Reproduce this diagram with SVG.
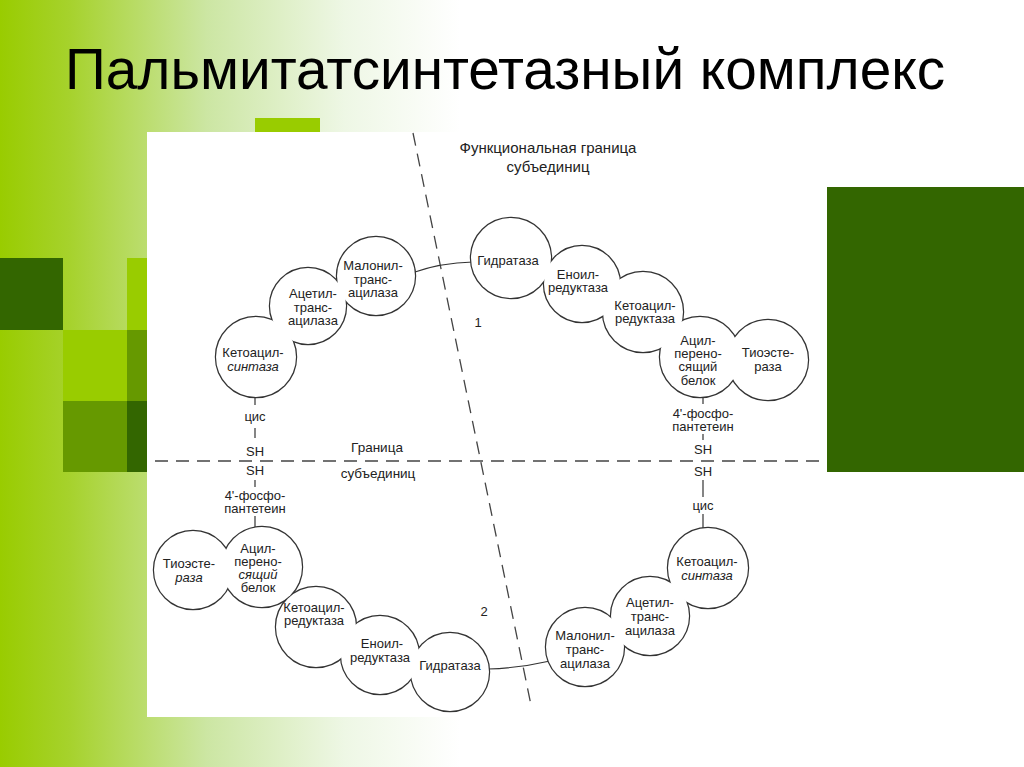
<svg xmlns="http://www.w3.org/2000/svg" width="1024" height="767" viewBox="0 0 1024 767">
<defs>
<linearGradient id="bgGrad" gradientUnits="userSpaceOnUse" x1="0" y1="0" x2="460" y2="0">
<stop offset="0" stop-color="#99cc00"/>
<stop offset="0.15" stop-color="#a6d22c"/>
<stop offset="0.45" stop-color="#cce6a3"/>
<stop offset="0.75" stop-color="#eef7e5"/>
<stop offset="1" stop-color="#ffffff"/>
</linearGradient>
<style>
.lime{fill:#99cc00}
.olive{fill:#669900}
.dark{fill:#336600}
.title{font-family:"Liberation Sans","Noto Sans",Arial,sans-serif;font-size:57px;fill:#000}
.t{font-family:"Liberation Sans","Noto Sans",Arial,sans-serif;font-size:13px;fill:#222;text-anchor:middle}
.it{font-style:italic}
.lbl{font-family:"Liberation Sans","Noto Sans",Arial,sans-serif;font-size:13.5px;fill:#222;text-anchor:middle}
.lbl2{font-family:"Liberation Sans","Noto Sans",Arial,sans-serif;font-size:15px;fill:#222;text-anchor:middle}
.ring{fill:none;stroke:#333;stroke-width:2.4}
.cover{fill:#fff;stroke:none}
.ln{fill:none;stroke:#333;stroke-width:1.2}
.dash{fill:none;stroke:#444;stroke-width:1.3;stroke-dasharray:13 8}
</style>
</defs>

<!-- background -->
<rect x="0" y="0" width="1024" height="767" fill="url(#bgGrad)"/>
<rect class="dark" x="0" y="258" width="63" height="72"/>
<rect class="lime" x="127" y="258" width="64" height="72"/>
<rect class="lime" x="63" y="330" width="64" height="71"/>
<rect class="olive" x="127" y="330" width="64" height="71"/>
<rect class="olive" x="63" y="401" width="64" height="71"/>
<rect class="dark" x="127" y="401" width="64" height="71"/>
<rect class="lime" x="255" y="118" width="65" height="66"/>
<rect x="147" y="132" width="680" height="585" fill="#fff"/>
<rect class="dark" x="827" y="187" width="197" height="285"/>

<text class="title" x="65" y="89" textLength="880" lengthAdjust="spacingAndGlyphs">Пальмитатсинтетазный комплекс</text>

<!-- connectors -->
<g id="connectors">
<line class="dash" x1="413" y1="133" x2="531" y2="705"/>
<line class="dash" x1="155" y1="461" x2="819" y2="461"/>
<path class="ln" d="M415,272 Q440,263 473,262"/>
<path class="ln" d="M488,669 Q520,668 550,661"/>
<line class="ln" x1="255" y1="397" x2="255" y2="405"/>
<line class="ln" x1="255" y1="428" x2="255" y2="438"/>
<line class="ln" x1="255" y1="480" x2="255" y2="487"/>
<line class="ln" x1="255" y1="516" x2="255" y2="528"/>
<line class="ln" x1="703" y1="396" x2="703" y2="404"/>
<line class="ln" x1="703" y1="434" x2="703" y2="440"/>
<line class="ln" x1="703" y1="480" x2="703" y2="497"/>
<line class="ln" x1="703" y1="514" x2="703" y2="529"/>
</g>

<!-- outline of the enzyme chains -->
<g id="chain-outlines">
<circle class="ring" cx="256" cy="357" r="40"/>
<circle class="ring" cx="308" cy="306" r="38"/>
<circle class="ring" cx="376" cy="276" r="39"/>
<circle class="ring" cx="511" cy="258" r="40"/>
<circle class="ring" cx="582" cy="284" r="38"/>
<circle class="ring" cx="643" cy="312" r="40"/>
<circle class="ring" cx="700" cy="357" r="40"/>
<circle class="ring" cx="768" cy="360" r="40"/>
<circle class="ring" cx="193" cy="570" r="39"/>
<circle class="ring" cx="262" cy="567" r="40"/>
<circle class="ring" cx="316" cy="627" r="40"/>
<circle class="ring" cx="380" cy="655" r="39"/>
<circle class="ring" cx="450" cy="672" r="39"/>
<circle class="ring" cx="585" cy="647" r="39"/>
<circle class="ring" cx="650" cy="616" r="39"/>
<circle class="ring" cx="708" cy="568" r="40"/>
</g>

<!-- subunit 1 -->
<g id="ks1"><circle class="cover" cx="256" cy="357" r="40"/>
<text class="t" x="253" y="357">Кетоацил-</text><text class="t it" x="253" y="371">синтаза</text></g>
<g id="at1"><circle class="cover" cx="308" cy="306" r="38"/>
<text class="t" x="313" y="298">Ацетил-</text><text class="t" x="313" y="312">транс-</text><text class="t" x="313" y="325">ацилаза</text></g>
<g id="mt1"><circle class="cover" cx="376" cy="276" r="39"/>
<text class="t" x="373" y="270">Малонил-</text><text class="t" x="373" y="284">транс-</text><text class="t" x="373" y="297">ацилаза</text></g>
<g id="hd1"><circle class="cover" cx="511" cy="258" r="40"/>
<text class="t" x="508" y="265">Гидратаза</text></g>
<g id="er1"><circle class="cover" cx="582" cy="284" r="38"/>
<text class="t" x="578" y="279">Еноил-</text><text class="t" x="578" y="292">редуктаза</text></g>
<g id="kr1"><circle class="cover" cx="643" cy="312" r="40"/>
<text class="t" x="645" y="310">Кетоацил-</text><text class="t" x="645" y="323">редуктаза</text></g>
<g id="acp1"><circle class="cover" cx="700" cy="357" r="40"/>
<text class="t" x="698" y="345">Ацил-</text><text class="t" x="698" y="358">перено-</text><text class="t" x="698" y="371">сящий</text><text class="t" x="698" y="385">белок</text></g>
<g id="te1"><circle class="cover" cx="768" cy="360" r="40"/>
<text class="t" x="768" y="357">Тиоэсте-</text><text class="t" x="768" y="371">раза</text></g>

<!-- subunit 2 -->
<g id="te2"><circle class="cover" cx="193" cy="570" r="39"/>
<text class="t" x="189" y="568">Тиоэсте-</text><text class="t it" x="189" y="582">раза</text></g>
<g id="acp2"><circle class="cover" cx="262" cy="567" r="40"/>
<text class="t" x="258" y="553">Ацил-</text><text class="t" x="258" y="566">перено-</text><text class="t it" x="258" y="579">сящий</text><text class="t" x="258" y="592">белок</text></g>
<g id="kr2"><circle class="cover" cx="316" cy="627" r="40"/>
<text class="t" x="314" y="612">Кетоацил-</text><text class="t" x="314" y="625">редуктаза</text></g>
<g id="er2"><circle class="cover" cx="380" cy="655" r="39"/>
<text class="t" x="382" y="648">Еноил-</text><text class="t" x="380" y="662">редуктаза</text></g>
<g id="hd2"><circle class="cover" cx="450" cy="672" r="39"/>
<text class="t" x="450" y="670">Гидратаза</text></g>
<g id="mt2"><circle class="cover" cx="585" cy="647" r="39"/>
<text class="t" x="585" y="640">Малонил-</text><text class="t" x="585" y="654">транс-</text><text class="t" x="585" y="668">ацилаза</text></g>
<g id="at2"><circle class="cover" cx="650" cy="616" r="39"/>
<text class="t" x="650" y="607">Ацетил-</text><text class="t" x="650" y="621">транс-</text><text class="t" x="650" y="635">ацилаза</text></g>
<g id="ks2"><circle class="cover" cx="708" cy="568" r="40"/>
<text class="t" x="707" y="566">Кетоацил-</text><text class="t it" x="707" y="580">синтаза</text></g>

<!-- labels -->
<g id="labels">
<text class="lbl2" x="548" y="153">Функциональная граница</text>
<text class="lbl2" x="548" y="172">субъединиц</text>
<text class="lbl" x="377" y="452">Граница</text>
<text class="lbl" x="378" y="478">субъединиц</text>
<text class="t" x="478" y="327">1</text>
<text class="t" x="484" y="616">2</text>
<text class="t" x="255" y="421">цис</text>
<text class="t" x="255" y="456">SH</text>
<text class="t" x="255" y="475">SH</text>
<text class="t" x="255" y="500">4'-фосфо-</text>
<text class="t" x="255" y="513">пантетеин</text>
<text class="t" x="703" y="418">4'-фосфо-</text>
<text class="t" x="703" y="431">пантетеин</text>
<text class="t" x="703" y="454">SH</text>
<text class="t" x="703" y="476">SH</text>
<text class="t" x="703" y="510">цис</text>
</g>
</svg>
